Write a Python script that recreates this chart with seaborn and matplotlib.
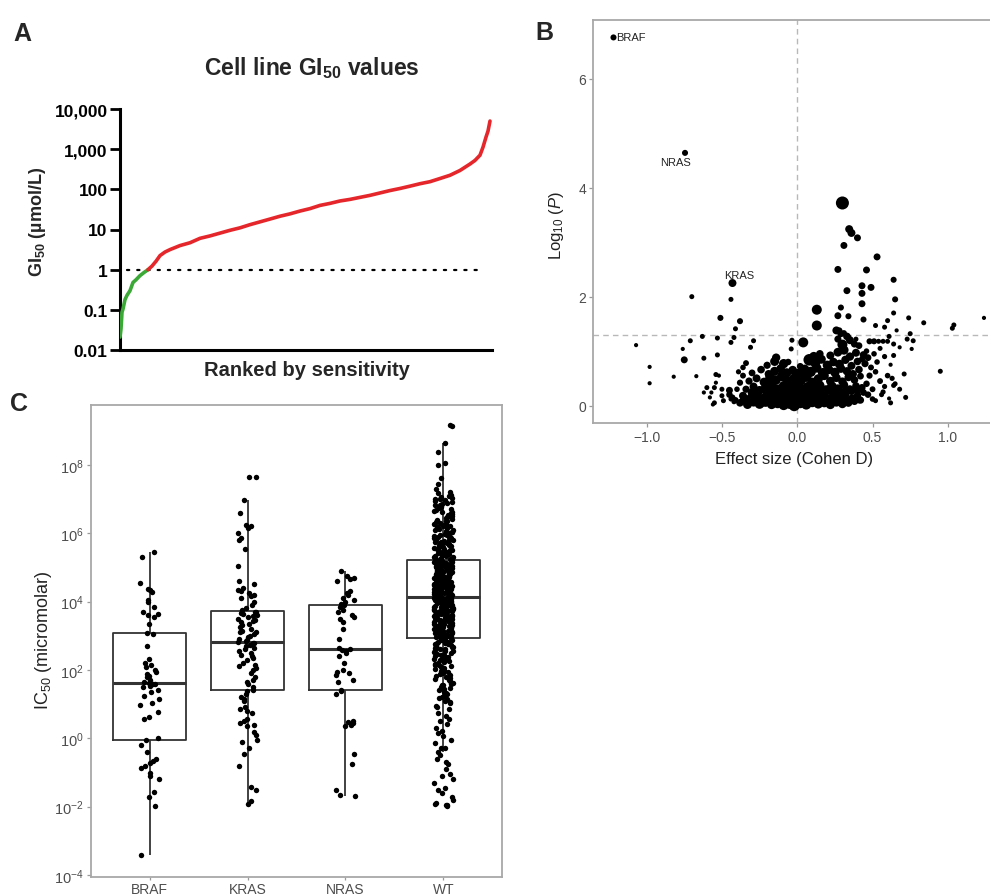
import numpy as np
import pandas as pd
import matplotlib
matplotlib.use("Agg")
import matplotlib.pyplot as plt
from matplotlib.ticker import FixedLocator, NullLocator, FixedFormatter
import seaborn as sns

# ---------------- Panel A data: ranked GI50 values (µmol/L) ----------------
gi50_rank = [0, 1, 2, 3, 5, 7, 10, 13, 16, 20, 24, 28, 32, 36, 40, 45, 50, 60, 70, 80,
             90, 100, 110, 120, 130, 140, 150, 160, 170, 180, 190, 200, 210, 220, 230,
             240, 250, 260, 270, 280, 290, 300, 310, 320, 330, 340, 345, 350, 355, 360,
             363, 366, 368, 370]
gi50_values = [0.021, 0.034, 0.087, 0.105, 0.18, 0.23, 0.30, 0.48, 0.56, 0.71, 0.85, 1.0,
               1.23, 1.62, 2.24, 2.75, 3.16, 3.98, 4.68, 6.03, 6.92, 8.13, 9.55, 11.0,
               13.2, 15.5, 18.2, 21.4, 24.5, 28.8, 33.1, 39.8, 44.7, 51.3, 56.2, 63.1,
               70.8, 81.3, 93.3, 105, 120, 138, 155, 186, 224, 295, 355, 427, 525, 708,
               1122, 1995, 2818, 5012]
gi50_ticks = [0.01, 0.1, 1, 10, 100, 1000, 10000]
gi50_ticklabels = ["0.01", "0.1", "1", "10", "100", "1,000", "10,000"]
gi50_threshold = 1.0

# ---------------- Panel B data: volcano (effect size, -log10 P, point size) ----------------
outer_effect = [-1.22, -0.745, -0.43, 0.30, 0.345, 0.36, 0.40, 0.31, 0.53, 0.27,
                0.46, 0.64, 0.43, 0.49, 0.43, 0.33, -0.70, -0.44, 0.65, 0.13,
                0.29, 0.43, 0.27, 0.34, 0.13, -0.51, -0.38, 0.44, 0.64, 0.74,
                0.84, 1.04, 1.03, 1.24, -0.41, -0.42, -0.44, -0.53, -0.63, -0.71,
                -0.76, -0.75, -1.07, -0.98, -0.98, -0.82, -0.67, -0.62, -0.53, -0.29,
                -0.31, -0.035, 0.04, -0.04, 0.61, 0.66, 0.58, 0.52, 0.60, 0.75,
                0.73, 0.77, 0.76, 0.68, 0.64, 0.48, 0.51, 0.54, 0.57, 0.60,
                0.71, 0.95, 0.52, 0.61, 0.64, 0.62, 0.64, -0.62, -0.57, -0.58,
                -0.56, -0.49, -0.54, -0.52, -0.45, -0.44, -0.42, 0.28, 0.31, 0.34,
                0.39, -0.54, -0.60, -0.55, -0.50, -0.45]
outer_logp = [6.76, 4.64, 2.25, 3.72, 3.24, 3.17, 3.08, 2.94, 2.73, 2.50,
              2.49, 2.31, 2.20, 2.17, 2.06, 2.11, 2.00, 1.95, 1.95, 1.76,
              1.80, 1.87, 1.65, 1.64, 1.47, 1.61, 1.55, 1.58, 1.70, 1.61,
              1.52, 1.48, 1.42, 1.61, 1.41, 1.25, 1.16, 1.24, 1.27, 1.19,
              1.04, 0.84, 1.11, 0.71, 0.41, 0.53, 0.54, 0.87, 0.93, 1.19,
              1.07, 1.20, 1.16, 1.04, 1.27, 1.38, 1.44, 1.47, 1.56, 1.32,
              1.22, 1.19, 1.04, 1.07, 1.13, 1.18, 1.18, 1.18, 1.18, 1.18,
              0.58, 0.63, 0.09, 0.13, 0.37, 0.75, 0.92, 0.24, 0.24, 0.15,
              0.02, 0.09, 0.42, 0.55, 0.20, 0.12, 0.07, 1.38, 1.33, 1.25,
              1.22, 0.57, 0.33, 0.33, 0.18, 0.28]
outer_size = [19, 19, 33, 88, 33, 33, 25, 25, 25, 25,
              25, 19, 25, 25, 25, 25, 13, 13, 19, 52,
              19, 25, 25, 19, 52, 19, 19, 19, 13, 13,
              13, 13, 13, 9, 13, 13, 13, 13, 13, 13,
              9, 25, 9, 9, 9, 9, 9, 13, 13, 13,
              13, 13, 52, 13, 13, 9, 13, 13, 13, 13,
              13, 13, 9, 9, 13, 19, 19, 13, 13, 13,
              13, 13, 13, 9, 13, 9, 13, 9, 9, 9,
              9, 13, 9, 9, 13, 13, 13, 19, 19, 19,
              13, 13, 13, 13, 13, 25]

band_low_effect = [-0.38, -0.33, -0.29, -0.25, -0.21, -0.17, -0.13, -0.09, -0.05, -0.02, 0.02,
                   0.06, 0.10, 0.14, 0.18, 0.22, 0.26, 0.30, 0.34, 0.38, 0.42,
                   -0.36, -0.31, -0.27, -0.23, -0.19, -0.15, -0.11, -0.07, -0.03, 0.00, 0.04,
                   0.08, 0.12, 0.16, 0.20, 0.24, 0.28, 0.32, 0.36, 0.40, 0.44]
band_low_logp = [0.05, 0.02, 0.06, 0.03, 0.07, 0.02, 0.05, 0.01, 0.04, 0.00, 0.05,
                 0.02, 0.06, 0.03, 0.05, 0.02, 0.06, 0.03, 0.05, 0.08, 0.10,
                 0.18, 0.14, 0.20, 0.12, 0.17, 0.22, 0.13, 0.19, 0.15, 0.22, 0.12,
                 0.18, 0.14, 0.21, 0.13, 0.19, 0.15, 0.20, 0.13, 0.19, 0.24]
band_low_size = [30, 42, 38, 50, 54, 45, 60, 54, 63, 66, 60,
                 54, 50, 45, 42, 45, 39, 38, 33, 30, 27,
                 33, 38, 45, 54, 50, 60, 66, 57, 60, 54, 63,
                 57, 50, 45, 42, 39, 38, 33, 30, 27, 24]

band_mid_effect = [-0.34, -0.29, -0.25, -0.21, -0.17, -0.13, -0.09, -0.05, -0.01, 0.03,
                   0.07, 0.11, 0.15, 0.19, 0.23, 0.27, 0.31, 0.35, 0.39, 0.43,
                   -0.32, -0.27, -0.22, -0.18, -0.14, -0.10, -0.06, -0.02, 0.02, 0.06,
                   0.10, 0.14, 0.18, 0.22, 0.26, 0.30, 0.34, 0.38, 0.42]
band_mid_logp = [0.30, 0.35, 0.28, 0.33, 0.38, 0.29, 0.36, 0.31, 0.37, 0.28,
                 0.34, 0.30, 0.37, 0.29, 0.35, 0.31, 0.38, 0.30, 0.36, 0.33,
                 0.45, 0.50, 0.43, 0.52, 0.47, 0.54, 0.44, 0.50, 0.46, 0.53,
                 0.42, 0.49, 0.55, 0.45, 0.51, 0.44, 0.52, 0.47, 0.54]
band_mid_size = [27, 33, 39, 45, 54, 60, 50, 66, 60, 63,
                 54, 50, 45, 42, 50, 39, 38, 33, 30, 27,
                 27, 33, 42, 50, 45, 54, 60, 50, 63, 57,
                 54, 45, 42, 39, 38, 36, 33, 30, 24]

band_high_effect = [-0.30, -0.24, -0.19, -0.15, -0.11, -0.07, -0.03, 0.01, 0.05, 0.09,
                    0.13, 0.17, 0.21, 0.25, 0.29, 0.33, 0.37, 0.41,
                    -0.20, -0.15, -0.09, 0.02, 0.08, 0.12, 0.16, 0.20, 0.24, 0.28,
                    0.32, 0.36, 0.40, 0.45]
band_high_logp = [0.60, 0.66, 0.58, 0.63, 0.68, 0.60, 0.65, 0.59, 0.67, 0.62,
                  0.69, 0.60, 0.66, 0.61, 0.68, 0.63, 0.58, 0.66,
                  0.74, 0.81, 0.77, 0.72, 0.84, 0.78, 0.85, 0.74, 0.80, 0.76,
                  0.84, 0.73, 0.81, 0.77]
band_high_size = [24, 30, 33, 42, 38, 45, 39, 50, 42, 54,
                  45, 50, 42, 45, 39, 36, 33, 30,
                  27, 42, 45, 24, 70, 50, 42, 45, 38, 42,
                  36, 33, 30, 27]

band_top_effect = [-0.14, -0.06, 0.11, 0.15, 0.22, 0.27, 0.31, 0.35, 0.39, 0.44,
                   0.47, 0.26, 0.29, 0.30, 0.33, 0.35, 0.38, 0.41, 0.27]
band_top_logp = [0.88, 0.80, 0.90, 0.95, 0.92, 0.98, 1.02, 0.90, 0.97, 0.93,
                 0.88, 1.38, 1.32, 1.12, 1.27, 1.20, 1.13, 1.10, 1.22]
band_top_size = [36, 22, 45, 30, 33, 40, 45, 36, 33, 30,
                 24, 33, 26, 52, 30, 33, 26, 24, 26]

band_fill_effect = [-0.35, -0.31, -0.27, -0.23, -0.19, -0.15, -0.11, -0.07, -0.03, 0.01,
                    0.05, 0.09, 0.13, 0.17, 0.21, 0.25, 0.29, 0.33, 0.37, 0.41,
                    -0.30, -0.26, -0.20, -0.16, -0.12, -0.08, -0.04, 0.00, 0.04, 0.08,
                    0.12, 0.16, 0.20, 0.24, 0.28, 0.32, 0.36, 0.40,
                    -0.55, -0.50, 0.50, 0.56, 0.62, 0.68, 0.72]
band_fill_logp = [0.11, 0.09, 0.13, 0.08, 0.11, 0.10, 0.09, 0.12, 0.08, 0.11,
                  0.10, 0.12, 0.09, 0.11, 0.08, 0.12, 0.10, 0.09, 0.13, 0.11,
                  0.24, 0.26, 0.25, 0.27, 0.24, 0.26, 0.25, 0.28, 0.24, 0.26,
                  0.27, 0.25, 0.28, 0.24, 0.26, 0.25, 0.27, 0.28,
                  0.05, 0.30, 0.12, 0.20, 0.05, 0.30, 0.15]
band_fill_size = [45, 50, 54, 58, 60, 62, 63, 60, 58, 63,
                  60, 58, 54, 50, 50, 45, 42, 40, 36, 30,
                  40, 45, 50, 54, 58, 60, 63, 58, 60, 58,
                  54, 50, 45, 42, 42, 40, 36, 30,
                  13, 13, 16, 13, 13, 13, 13]

band_edge_effect = [-0.45, -0.43, -0.41, -0.40, -0.38, -0.36, -0.39, -0.36, -0.34, 0.46,
                    0.48, 0.50, 0.52, 0.47, 0.55, 0.57, 0.53, 0.58, 0.60, 0.63,
                    0.65, 0.49, 0.51, 0.46, 0.43, 0.55, 0.58]
band_edge_logp = [0.20, 0.15, 0.10, 0.30, 0.42, 0.55, 0.62, 0.70, 0.78, 0.40,
                  0.55, 0.30, 0.62, 0.20, 0.45, 0.25, 0.80, 0.35, 0.55, 0.50,
                  0.40, 0.70, 0.95, 1.00, 0.85, 1.05, 0.90]
band_edge_size = [22, 18, 20, 16, 20, 18, 14, 16, 18, 22,
                  20, 18, 16, 22, 18, 14, 16, 14, 16, 14,
                  13, 18, 16, 16, 20, 13, 14]

volcano_labels = ["BRAF", "NRAS", "KRAS"]
volcano_label_x = [-1.205, -0.81, -0.385]
volcano_label_y = [6.76, 4.48, 2.40]
volcano_xticks = [-1.0, -0.5, 0.0, 0.5, 1.0]
volcano_xticklabels = ["\u22121.0", "\u22120.5", "0.0", "0.5", "1.0"]
volcano_yticks = [0, 2, 4, 6]
p_threshold = 1.3

# ---------------- Panel C data: log10 IC50 (micromolar) by mutation group ----------------
groups = ["BRAF", "KRAS", "NRAS", "WT"]
log_ic50_braf = [-3.43, -1.98, -1.72, -1.58, -1.19, -1.1, -1.02, -0.88, -0.8, -0.72,
                 -0.68, -0.6, -0.41, -0.21, -0.06, 0.0, 0.56, 0.62, 0.76, 0.96,
                 1.02, 1.15, 1.25, 1.35, 1.42, 1.5, 1.54, 1.58, 1.60, 1.62,
                 1.66, 1.7, 1.78, 1.82, 1.88, 1.93, 2.0, 2.08, 2.15, 2.2,
                 2.32, 2.71, 3.05, 3.08, 3.35, 3.55, 3.6, 3.64, 3.69, 3.83,
                 3.98, 4.03, 4.27, 4.33, 4.37, 4.55, 5.3, 5.44]
log_ic50_kras = [-1.92, -1.85, -1.5, -1.42, -0.8, -0.45, -0.3, -0.1, -0.05, 0.1,
                 0.17, 0.35, 0.4, 0.45, 0.5, 0.55, 0.75, 0.8, 0.85, 0.9,
                 1.1, 1.15, 1.2, 1.3, 1.38, 1.41, 1.5, 1.6, 1.65, 1.7,
                 1.8, 1.9, 2.0, 2.05, 2.1, 2.15, 2.2, 2.3, 2.35, 2.4,
                 2.45, 2.5, 2.55, 2.6, 2.65, 2.7, 2.72, 2.75, 2.78, 2.80,
                 2.82, 2.85, 2.88, 2.9, 2.95, 3.0, 3.05, 3.1, 3.12, 3.15,
                 3.2, 3.25, 3.3, 3.35, 3.4, 3.42, 3.45, 3.5, 3.55, 3.58,
                 3.6, 3.63, 3.65, 3.68, 3.70, 3.74, 3.8, 3.9, 4.0, 4.1,
                 4.15, 4.2, 4.25, 4.3, 4.35, 4.4, 4.5, 4.6, 5.05, 5.55,
                 5.8, 5.85, 6.0, 6.15, 6.2, 6.25, 6.6, 6.96, 7.63, 7.63]
log_ic50_nras = [-1.68, -1.66, -1.5, -0.75, -0.45, 0.35, 0.4, 0.45, 0.48, 0.5,
                 1.3, 1.38, 1.41, 1.65, 1.7, 1.85, 1.9, 1.95, 2.0, 2.2,
                 2.4, 2.5, 2.55, 2.58, 2.62, 2.65, 2.9, 3.2, 3.4, 3.5,
                 3.55, 3.6, 3.7, 3.75, 3.85, 3.90, 3.94, 4.0, 4.05, 4.1,
                 4.2, 4.25, 4.3, 4.6, 4.65, 4.7, 4.75, 4.88]
log_ic50_wt = [-1.97, -1.96, -1.95, -1.9, -1.8, -1.72, -1.6, -1.45, -1.3, -1.2,
               -1.05, -0.9, -0.75, -0.62, -0.5, -0.4, -0.28, -0.15, -0.05, 0.08,
               0.2, 0.3, 0.42, 0.55, 0.66, 0.75, 0.85, 0.95, 1.02, 1.1,
               1.18, 1.25, 1.33, 1.4, 1.47, 1.55, 1.6, 1.68, 1.74, 1.8,
               1.87, 1.93, 1.99, 2.05, 2.1, 2.16, 2.22, 2.28, 2.33, 2.39,
               2.44, 2.5, 2.55, 2.6, 2.66, 2.71, 2.76, 2.81, 2.86, 2.91,
               2.94, 2.97, 2.99, 3.03, 3.04, 3.07, 3.10, 3.11, 3.15, 3.16,
               3.19, 3.22, 3.23, 3.27, 3.28, 3.31, 3.34, 3.35, 3.38, 3.41,
               3.42, 3.45, 3.47, 3.50, 3.52, 3.53, 3.56, 3.58, 3.61, 3.62,
               3.65, 3.67, 3.69, 3.72, 3.73, 3.76, 3.78, 3.80, 3.83, 3.84,
               3.86, 3.89, 3.90, 3.93, 3.95, 3.96, 3.98, 4.01, 4.02, 4.04,
               4.05, 4.07, 4.08, 4.09, 4.10, 4.11, 4.12, 3.00, 3.60, 3.25,
               4.14, 4.16, 4.19, 4.21, 4.22, 4.25, 4.27, 4.30, 4.31, 4.34,
               4.36, 4.38, 4.41, 4.42, 4.45, 4.47, 4.49, 4.52, 4.53, 4.56,
               4.58, 4.60, 4.62, 4.65, 4.66, 4.69, 4.71, 4.73, 4.75, 4.78,
               4.80, 4.82, 4.84, 4.86, 4.89, 4.90, 4.93, 4.95, 4.97, 4.99,
               5.01, 5.03, 5.05, 5.07, 5.09, 5.11, 5.13, 5.15, 5.17, 5.19,
               5.20, 5.21, 4.18, 4.44, 4.61, 4.77, 4.88, 5.04, 5.12, 4.33,
               5.24, 5.27, 5.31, 5.33, 5.37, 5.39, 5.42, 5.46, 5.48, 5.51,
               5.55, 5.57, 5.61, 5.63, 5.66, 5.70, 5.72, 5.75, 5.79, 5.81,
               5.85, 5.88, 5.90, 5.94, 5.97, 6.01, 6.04, 6.09, 6.12, 6.17,
               6.20, 6.25, 6.28, 6.33, 6.37, 6.41, 6.46, 6.50, 6.56, 6.61,
               6.66, 6.70, 6.76, 6.81, 6.86, 6.90, 6.96, 7.01, 7.06, 7.13,
               7.21, 7.30, 7.44, 7.62, 7.98, 8.05, 8.37, 8.64, 9.15, 9.16]
log_ic50_wt_more = [-1.93, -1.5, -1.1, -0.7, -0.3, 0.15, 0.5, 0.9, 1.05, 1.15,
                    1.22, 1.3, 1.36, 1.43, 1.5, 1.57, 1.63, 1.7, 1.77, 1.83,
                    1.9, 1.96, 2.02, 2.08, 2.13, 2.19, 2.25, 2.31, 2.36, 2.42,
                    2.47, 2.52, 2.57, 2.63, 2.68, 2.73, 2.78, 2.83, 2.88, 2.9,
                    2.45, 2.35, 2.15, 2.6, 2.75, 2.05, 1.85, 2.7, 2.8, 2.55,
                    2.95, 2.98, 3.01, 3.05, 3.08, 3.12, 3.14, 3.18, 3.21, 3.24,
                    3.26, 3.29, 3.32, 3.36, 3.39, 3.43, 3.46, 3.49, 3.51, 3.55,
                    3.57, 3.59, 3.63, 3.66, 3.68, 3.71, 3.74, 3.77, 3.79, 3.82,
                    3.85, 3.87, 3.91, 3.94, 3.97, 3.99, 4.03, 4.06, 4.09, 4.11,
                    3.02, 3.13, 3.3, 3.44, 3.54, 3.64, 3.75, 3.88, 3.97, 4.07,
                    4.15, 4.17, 4.2, 4.23, 4.26, 4.28, 4.32, 4.35, 4.37, 4.4,
                    4.43, 4.46, 4.48, 4.51, 4.54, 4.57, 4.59, 4.63, 4.64, 4.67,
                    4.7, 4.72, 4.74, 4.76, 4.79, 4.81, 4.83, 4.85, 4.87, 4.91,
                    4.92, 4.94, 4.96, 4.98, 5.0, 5.02, 5.06, 5.08, 5.1, 5.14,
                    5.16, 5.18, 4.24, 4.39, 4.55, 4.68, 4.85, 4.97, 5.06, 5.16,
                    5.25, 5.29, 5.32, 5.35, 5.38, 5.41, 5.44, 5.47, 5.5, 5.53,
                    5.56, 5.59, 5.62, 5.65, 5.68, 5.71, 5.74, 5.77, 5.8, 5.83,
                    5.86, 5.89, 5.92, 5.95, 5.99, 6.02, 6.06, 6.1, 6.14, 6.18,
                    6.22, 6.27, 6.31, 6.35, 6.39, 6.44, 6.48, 6.53, 6.58, 6.63,
                    6.68, 6.73, 6.78, 6.83, 6.88, 6.93, 6.99, 7.04, 7.1, 7.18]
ic50_tick_exponents = [-4, -2, 0, 2, 4, 6, 8]

# ---------------- Style ----------------
sns.set_theme(style="white")
plt.rcParams['font.family'] = ['Liberation Sans', 'DejaVu Sans']
plt.rcParams['mathtext.fontset'] = 'custom'
plt.rcParams['mathtext.rm'] = 'Liberation Sans'
plt.rcParams['mathtext.it'] = 'Liberation Sans:italic'
plt.rcParams['mathtext.bf'] = 'Liberation Sans:bold'

W, H = 990, 895
fig = plt.figure(figsize=(W / 100, H / 100), dpi=100)
fig.patch.set_facecolor('white')


def add_ax(left, top, right, bottom):
    return fig.add_axes([left / W, 1 - bottom / H, (right - left) / W, (bottom - top) / H])


def ftext(x, y, s, **kw):
    return fig.text(x / W, 1 - y / H, s, **kw)


GREY_TXT = '#4d4d4d'
GREY_LINE = '#9a9a9a'

# ---------------- Panel A ----------------
axA = add_ax(120, 110, 492, 351)
axA.set_yscale('log')
dfA = pd.DataFrame({'rank': gi50_rank, 'gi50': gi50_values})
sens = dfA[dfA['gi50'] <= gi50_threshold]
resi = dfA[dfA['gi50'] >= gi50_threshold]
sns.lineplot(data=sens, x='rank', y='gi50', color='#3aa935', lw=2.6, ax=axA, zorder=3)
sns.lineplot(data=resi, x='rank', y='gi50', color='#e5262b', lw=2.6, ax=axA, zorder=3)
axA.plot([7, 357], [gi50_threshold, gi50_threshold], color='black', lw=1.6,
         ls=(0, (1, 3.6)), dash_capstyle='round', zorder=2)
axA.set_ylim(0.01, 10000)
axA.set_xlim(0, 372)
axA.yaxis.set_major_locator(FixedLocator(gi50_ticks))
axA.yaxis.set_major_formatter(FixedFormatter(gi50_ticklabels))
axA.yaxis.set_minor_locator(NullLocator())
axA.set_xticks([])
axA.tick_params(axis='y', direction='out', length=7, width=2, colors='black',
                labelsize=12.5, pad=2, left=True)
for lab in axA.get_yticklabels():
    lab.set_fontweight('bold')
for s in ['top', 'right']:
    axA.spines[s].set_visible(False)
for s in ['left', 'bottom']:
    axA.spines[s].set_linewidth(2.2)
    axA.spines[s].set_color('black')
axA.set_xlabel('')
axA.set_ylabel('')
ftext(13, 34, 'A', fontsize=18, fontweight='bold', ha='left', va='center')
ftext(312, 68, r'Cell line GI$_{\mathbf{50}}$ values', fontsize=16.5, fontweight='bold',
      ha='center', va='center')
ftext(37, 222, r'GI$_{\mathbf{50}}$ (µmol/L)', fontsize=13, fontweight='bold',
      ha='center', va='center', rotation=90)
ftext(307, 371, 'Ranked by sensitivity', fontsize=14.5, fontweight='bold',
      ha='center', va='center')

# ---------------- Panel B ----------------
axB = add_ax(593, 21, 990, 424)
dfB = pd.DataFrame({
    'effect': outer_effect + band_low_effect + band_mid_effect + band_high_effect
              + band_top_effect + band_fill_effect + band_edge_effect,
    'logp': outer_logp + band_low_logp + band_mid_logp + band_high_logp
            + band_top_logp + band_fill_logp + band_edge_logp,
    'size': outer_size + band_low_size + band_mid_size + band_high_size
            + band_top_size + band_fill_size + band_edge_size,
})
axB.axvline(0, color='#b8b8b8', lw=1.0, ls=(0, (4, 3)), zorder=1)
axB.axhline(p_threshold, color='#b8b8b8', lw=1.0, ls=(0, (4, 3)), zorder=1)
sns.scatterplot(data=dfB, x='effect', y='logp', size='size', sizes=(9, 88),
                size_norm=(9, 88), color='black', edgecolor='none', linewidth=0,
                legend=False, ax=axB, zorder=3)
axB.set_xlim(-1.356, 1.28)
axB.set_ylim(-0.32, 7.08)
axB.set_xticks(volcano_xticks)
axB.set_xticklabels(volcano_xticklabels)
axB.set_yticks(volcano_yticks)
axB.tick_params(axis='both', direction='out', length=3, width=0.9, color=GREY_LINE,
                labelcolor=GREY_TXT, labelsize=10, pad=2, bottom=True, left=True)
for s in ['top', 'left', 'bottom']:
    axB.spines[s].set_color('#a8a8a8')
    axB.spines[s].set_linewidth(1.3)
axB.spines['right'].set_visible(False)
axB.set_xlabel('')
axB.set_ylabel('')
for lab, lx, ly in zip(volcano_labels, volcano_label_x, volcano_label_y):
    ha = 'left' if lab == 'BRAF' else 'center'
    axB.text(lx, ly, lab, fontsize=8, color='#222222', ha=ha, va='center', zorder=4)
ftext(535, 33, 'B', fontsize=18, fontweight='bold', ha='left', va='center')
ftext(557, 225, r'Log$_{10}$ ($P$)', fontsize=12, color='#222222',
      ha='center', va='center', rotation=90)
ftext(794, 460, 'Effect size (Cohen D)', fontsize=12, color='#222222',
      ha='center', va='center')

# ---------------- Panel C ----------------
axC = add_ax(91, 406, 502, 878)
wt_all = log_ic50_wt + log_ic50_wt_more
dfC = pd.DataFrame({
    'group': ['BRAF'] * len(log_ic50_braf) + ['KRAS'] * len(log_ic50_kras)
             + ['NRAS'] * len(log_ic50_nras) + ['WT'] * len(wt_all),
    'ic50': np.power(10.0, log_ic50_braf + log_ic50_kras + log_ic50_nras + wt_all),
})
sns.boxplot(data=dfC, x='group', y='ic50', order=groups, log_scale=True, width=0.75,
            fill=False, color='#333333', linecolor='#333333', linewidth=1.3,
            whis=1.5, showfliers=False, showcaps=False,
            medianprops=dict(linewidth=2.2, color='#333333'), ax=axC, zorder=2)
np.random.seed(7)
sns.stripplot(data=dfC, x='group', y='ic50', order=groups, log_scale=True, jitter=0.1,
              color='black', size=3.9, linewidth=0, ax=axC, zorder=3)
axC.set_ylim(10 ** -4.06, 10 ** 9.75)
axC.set_xlim(-0.6, 3.6)
axC.yaxis.set_major_locator(FixedLocator([10.0 ** e for e in ic50_tick_exponents]))
axC.yaxis.set_major_formatter(FixedFormatter([r'10$^{%d}$' % e for e in ic50_tick_exponents]))
axC.yaxis.set_minor_locator(NullLocator())
axC.tick_params(axis='y', direction='out', length=3, width=0.9, color=GREY_LINE,
                labelcolor=GREY_TXT, labelsize=10.5, pad=2, left=True)
axC.tick_params(axis='x', direction='out', length=2.5, width=0.9, color=GREY_LINE,
                labelcolor=GREY_TXT, labelsize=10, pad=1, bottom=True)
for s in ['top', 'left', 'bottom', 'right']:
    axC.spines[s].set_color('#a8a8a8')
    axC.spines[s].set_linewidth(1.3)
axC.set_xlabel('')
axC.set_ylabel('')
ftext(10, 404, 'C', fontsize=18, fontweight='bold', ha='left', va='center')
ftext(44, 640, r'IC$_{50}$ (micromolar)', fontsize=13, color='#222222',
      ha='center', va='center', rotation=90)

fig.savefig('out.png', dpi=100, facecolor='white')
